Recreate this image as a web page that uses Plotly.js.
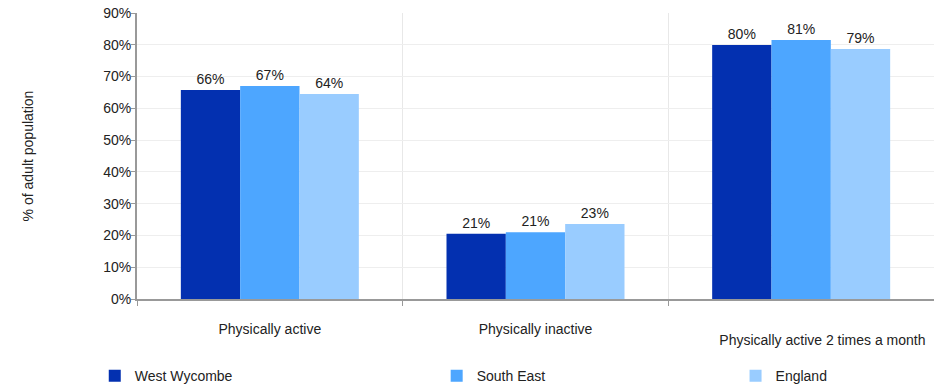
<!DOCTYPE html>
<html>
<head>
<meta charset="utf-8">
<script src="https://cdn.plot.ly/plotly-3.0.1.min.js"></script>
<style>html,body{margin:0;padding:0;background:#fff;}#chart{width:934px;height:387px;}</style>
</head>
<body>
<div id="chart"></div>
<script>
const categories = ["Physically active", "Physically inactive", "Physically active 2 times a month"];
const tickLabels = ["Physically active", "Physically inactive", ""];
const lowerTickLabels = ["Physically active 2 times a month"];
const seriesNames = ["West Wycombe", "South East", "England"];
const westWycombe = [65.8, 20.5, 79.9];
const southEast = [67.0, 21.0, 81.5];
const england = [64.5, 23.6, 78.7];
const westWycombeLabels = ["66%", "21%", "80%"];
const southEastLabels = ["67%", "21%", "81%"];
const englandLabels = ["64%", "23%", "79%"];
const colors = ["#0330B0", "#4DA6FF", "#99CCFF"];

const FONT = "Liberation Sans, Arial, sans-serif";
const values = [westWycombe, southEast, england];
const labels = [westWycombeLabels, southEastLabels, englandLabels];
const legendIds = ["legend", "legend2", "legend3"];

const traces = seriesNames.map((name, i) => ({
  type: "bar",
  name: name,
  x: categories,
  y: values[i],
  text: labels[i],
  textposition: "outside",
  textfont: {family: FONT, size: 14, color: "#222"},
  cliponaxis: false,
  marker: {color: colors[i]},
  legend: legendIds[i],
  hoverinfo: "none"
}));

// empty helper trace so the second (label-only) x axis is drawn
traces.push({
  type: "scatter",
  mode: "markers",
  x: [],
  y: [],
  xaxis: "x2",
  yaxis: "y",
  showlegend: false,
  hoverinfo: "none"
});

const legendBase = {
  orientation: "h",
  yanchor: "middle",
  xanchor: "left",
  y: -0.27,
  font: {family: FONT, size: 14, color: "#222"},
  bgcolor: "rgba(0,0,0,0)",
  itemwidth: 30
};

const layout = {
  width: 934,
  height: 387,
  margin: {l: 137, r: 0, t: 13, b: 88, autoexpand: false},
  paper_bgcolor: "#fff",
  plot_bgcolor: "#fff",
  font: {family: FONT, size: 14, color: "#222"},
  barmode: "group",
  bargap: 0.33,
  bargroupgap: 0,
  showlegend: true,
  legend: Object.assign({}, legendBase, {x: -0.053}),
  legend2: Object.assign({}, legendBase, {x: 0.376}),
  legend3: Object.assign({}, legendBase, {x: 0.751}),
  xaxis: {
    type: "category",
    tickvals: categories,
    ticktext: tickLabels,
    tickson: "boundaries",
    ticks: "outside",
    ticklen: 5,
    tickcolor: "#999",
    ticklabelstandoff: 16,
    showgrid: true,
    gridcolor: "#e8e8e8",
    gridwidth: 1,
    showline: true,
    linecolor: "#999",
    linewidth: 2,
    tickfont: {family: FONT, size: 14, color: "#222"},
    automargin: false,
    fixedrange: true
  },
  xaxis2: {
    type: "linear",
    overlaying: "x",
    anchor: "y",
    side: "bottom",
    range: [-0.5, 2.5],
    tickmode: "array",
    tickvals: [2.08],
    ticktext: lowerTickLabels,
    ticks: "",
    ticklabelstandoff: 31,
    showgrid: false,
    zeroline: false,
    showline: false,
    tickfont: {family: FONT, size: 14, color: "#222"},
    automargin: false,
    fixedrange: true
  },
  yaxis: {
    range: [0, 90],
    dtick: 10,
    ticksuffix: "%",
    ticks: "outside",
    ticklen: 4,
    tickcolor: "#999",
    ticklabelstandoff: -3,
    showgrid: true,
    gridcolor: "#eeeeee",
    gridwidth: 1,
    zeroline: false,
    showline: true,
    linecolor: "#999",
    linewidth: 2,
    tickfont: {family: FONT, size: 14, color: "#222"},
    title: {text: "% of adult population", standoff: 66, font: {family: FONT, size: 14, color: "#222"}},
    automargin: false,
    fixedrange: true
  }
};

Plotly.newPlot("chart", traces, layout, {displayModeBar: false, staticPlot: true});
</script>
</body>
</html>
